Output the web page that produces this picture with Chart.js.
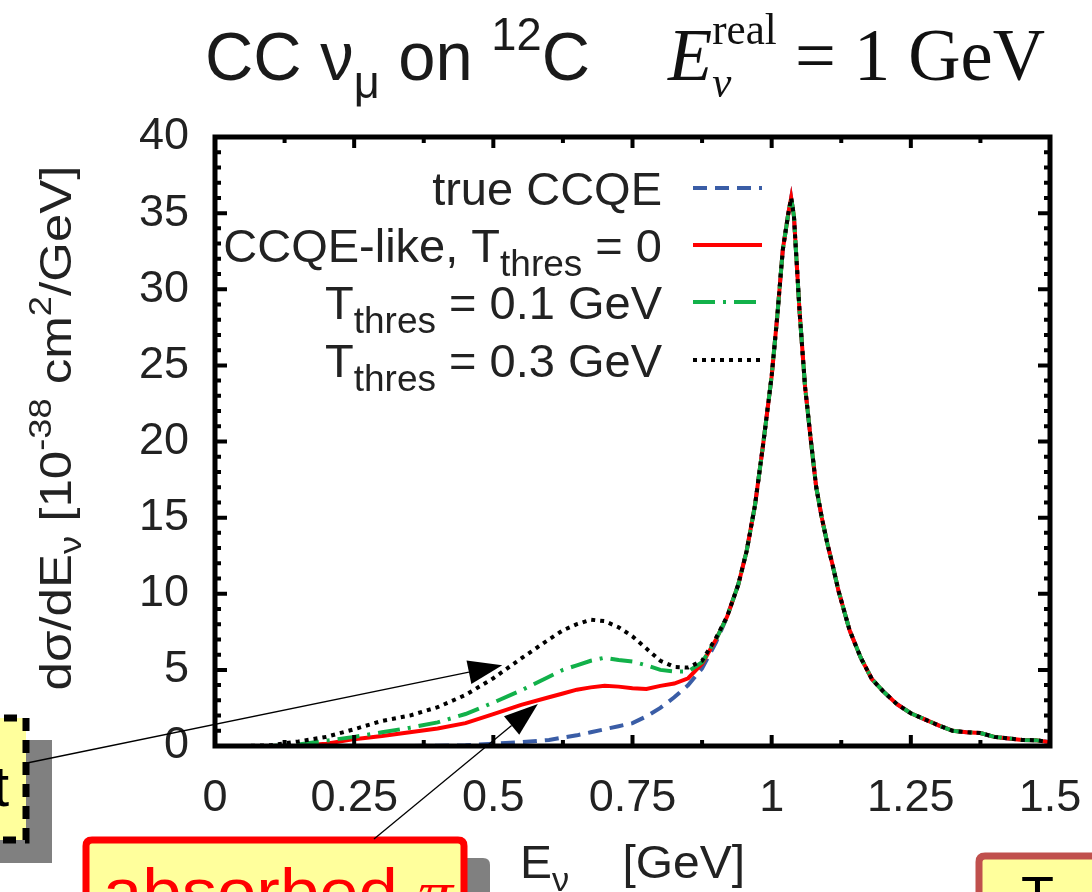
<!DOCTYPE html>
<html>
<head>
<meta charset="utf-8">
<script src="https://cdn.jsdelivr.net/npm/chart.js@4.4.1/dist/chart.umd.min.js"></script>
<style>
html,body{margin:0;padding:0;background:#fff;}
canvas{display:block;}
</style>
</head>
<body>
<canvas id="c" width="1092" height="892"></canvas>
<script>
// ---------------- data ----------------
const xLow = [0,0.05,0.1,0.15,0.2,0.25,0.3,0.35,0.4,0.45,0.5,0.55,0.6,0.625,0.65,0.675,0.7,0.725,0.75,0.775,0.8,0.825,0.85,0.875,0.9];
const trueCCQELow  = [0,0,0,0,0,0,0,0,0.02,0.05,0.15,0.25,0.4,0.55,0.7,0.9,1.1,1.3,1.5,1.95,2.5,3.2,4.0,5.1,6.8];
const ccqeLikeLow  = [0,0,0,0.02,0.15,0.45,0.65,0.9,1.15,1.5,2.1,2.7,3.2,3.45,3.7,3.85,3.95,3.9,3.8,3.75,3.95,4.1,4.45,5.4,7.0];
const thres01Low   = [0,0,0,0.1,0.35,0.6,0.9,1.2,1.55,2.1,2.85,3.65,4.55,5.0,5.3,5.6,5.8,5.65,5.55,5.3,5.0,4.9,4.9,5.5,7.0];
const thres03Low   = [0,0,0.05,0.3,0.6,1.1,1.65,2.0,2.55,3.35,4.45,5.75,7.0,7.6,8.0,8.3,8.2,7.8,7.2,6.4,5.6,5.2,5.15,5.6,7.1];
// above ~0.9 GeV all four curves coincide
const xHigh = [0.92,0.94,0.955,0.97,0.985,1.0,1.01,1.02,1.03,1.035,1.04,1.05,1.06,1.07,1.08,1.09,1.1,1.11,1.12,1.14,1.16,1.18,1.2,1.225,1.25,1.275,1.3,1.325,1.35,1.375,1.4,1.425,1.45,1.475,1.5];
const sharedHigh = [8.5,10.6,12.8,15.8,19.9,24.3,28.2,32.6,35.0,36.0,34.8,28.6,23.6,20.2,17.0,15.0,13.3,11.8,10.2,7.6,5.8,4.4,3.6,2.75,2.15,1.75,1.35,1.0,0.9,0.85,0.6,0.5,0.4,0.38,0.25];

const seriesNames = ['true CCQE','CCQE-like, T_thres = 0','T_thres = 0.1 GeV','T_thres = 0.3 GeV'];
const xTickLabels = ['0','0.25','0.5','0.75','1','1.25','1.5'];
const yTickLabels = ['0','5','10','15','20','25','30','35','40'];
const xTickStep = 0.25, yTickStep = 5;
const xRange = [0, 1.5], yRange = [0, 40];
// annotation arrow targets (data coordinates)
const arrowTipDirect = [0.516, 5.3];
const arrowTipAbsorbed = [0.58, 2.76];

function pts(lowY){
  const xs = xLow.concat(xHigh), ys = lowY.concat(sharedHigh);
  return xs.map((x,i)=>({x:x, y:ys[i]}));
}

const SANS = '"Liberation Sans", Arial, Helvetica, sans-serif';
const SERIF = '"Liberation Serif", "Times New Roman", Times, serif';

// ---------------- rich text helper ----------------
function measureRich(ctx, parts){
  let w = 0, pend = null;
  for (const p of parts){
    ctx.font = p.font;
    const pw = ctx.measureText(p.t).width;
    if (p.stack){ pend = pw; continue; }
    if (pend !== null){ w += Math.max(pend, pw); pend = null; }
    else w += pw;
  }
  return w;
}
function drawRich(ctx, parts, x, y, opt){
  opt = opt || {};
  const W = measureRich(ctx, parts);
  const sx = opt.fit ? opt.fit / W : 1;
  let x0 = x;
  if (opt.align === 'right') x0 = x - W*sx;
  else if (opt.align === 'center') x0 = x - W*sx/2;
  ctx.save();
  ctx.translate(x0, y);
  ctx.scale(sx, 1);
  ctx.textAlign = 'left';
  ctx.textBaseline = 'alphabetic';
  let cx = 0, pend = null;
  for (const p of parts){
    ctx.font = p.font;
    ctx.fillStyle = p.color || opt.color || '#222';
    ctx.fillText(p.t, cx, p.dy || 0);
    const pw = ctx.measureText(p.t).width;
    if (p.stack){ pend = pw; continue; }
    if (pend !== null){ cx += Math.max(pend, pw); pend = null; }
    else cx += pw;
  }
  ctx.restore();
}
function rrect(ctx, x, y, w, h, r){
  ctx.beginPath();
  ctx.moveTo(x+r, y);
  ctx.lineTo(x+w-r, y); ctx.quadraticCurveTo(x+w, y, x+w, y+r);
  ctx.lineTo(x+w, y+h-r); ctx.quadraticCurveTo(x+w, y+h, x+w-r, y+h);
  ctx.lineTo(x+r, y+h); ctx.quadraticCurveTo(x, y+h, x, y+h-r);
  ctx.lineTo(x, y+r); ctx.quadraticCurveTo(x, y, x+r, y);
  ctx.closePath();
}
function arrow(ctx, x0, y0, x1, y1){
  const a = Math.atan2(y1-y0, x1-x0), L = 34, hw = 12;
  const bx = x1 - L*Math.cos(a), by = y1 - L*Math.sin(a);
  ctx.save();
  ctx.strokeStyle = '#000'; ctx.lineWidth = 1.3; ctx.setLineDash([]);
  ctx.beginPath(); ctx.moveTo(x0, y0); ctx.lineTo(bx, by); ctx.stroke();
  ctx.fillStyle = '#000';
  ctx.beginPath();
  ctx.moveTo(x1, y1);
  ctx.lineTo(bx + hw*Math.sin(a), by - hw*Math.cos(a));
  ctx.lineTo(bx - hw*Math.sin(a), by + hw*Math.cos(a));
  ctx.closePath(); ctx.fill();
  ctx.restore();
}

// ---------------- decorations plugin ----------------
const deco = {
  id: 'deco',
  afterDatasetsDraw(chart){
    const ctx = chart.ctx, a = chart.chartArea;
    const xs = chart.scales.x, ys = chart.scales.y;
    ctx.save();
    ctx.strokeStyle = '#000'; ctx.setLineDash([]);
    ctx.lineWidth = 4;
    ctx.beginPath();
    for (let v = xRange[0]; v <= xRange[1] + 1e-9; v += xTickStep/2){
      const px = xs.getPixelForValue(v);
      const major = Math.abs(v/xTickStep - Math.round(v/xTickStep)) < 1e-6;
      const L = major ? 11 : 6;
      ctx.moveTo(px, a.bottom); ctx.lineTo(px, a.bottom - L);
      ctx.moveTo(px, a.top); ctx.lineTo(px, a.top + L);
    }
    for (let v = yRange[0]; v <= yRange[1] + 1e-9; v += 1){
      const py = ys.getPixelForValue(v);
      const major = (v % yTickStep) === 0;
      const L = major ? 12 : 6;
      ctx.moveTo(a.left, py); ctx.lineTo(a.left + L, py);
      ctx.moveTo(a.right, py); ctx.lineTo(a.right - L, py);
    }
    ctx.stroke();
    ctx.lineWidth = 5;
    ctx.strokeRect(a.left, a.top, a.right - a.left, a.bottom - a.top);
    ctx.restore();
  },
  afterDraw(chart){
    const ctx = chart.ctx;
    const xs = chart.scales.x, ys = chart.scales.y;
    ctx.save();
    // ---- title ----
    drawRich(ctx, [
      {t:'CC ', font:'68px '+SANS},
      {t:'\u03BD', font:'68px '+SANS},
      {t:'\u03BC', font:'46px '+SANS, dy:18},
      {t:' on ', font:'68px '+SANS},
      {t:'12', font:'46px '+SANS, dy:-30},
      {t:'C', font:'68px '+SANS}
    ], 205, 80, {fit:385, color:'#1a1a1a'});
    drawRich(ctx, [
      {t:'E', font:'italic 74px '+SERIF},
      {t:'real', font:'44px '+SERIF, dy:-36, stack:true},
      {t:'\u03BD', font:'italic 44px '+SERIF, dy:17},
      {t:' = 1 GeV', font:'74px '+SERIF}
    ], 668, 80, {fit:377, color:'#111'});

    // ---- y axis title (rotated) ----
    ctx.save();
    ctx.translate(71, 428);
    ctx.rotate(-Math.PI/2);
    drawRich(ctx, [
      {t:'d\u03C3/dE', font:'45px '+SANS},
      {t:'\u03BD', font:'32px '+SANS, dy:10},
      {t:' [10', font:'45px '+SANS},
      {t:'-38', font:'32px '+SANS, dy:-20},
      {t:' cm', font:'45px '+SANS},
      {t:'2', font:'32px '+SANS, dy:-20},
      {t:'/GeV]', font:'45px '+SANS}
    ], 0, 0, {align:'center', fit:525, color:'#222'});
    ctx.restore();

    // ---- x axis title ----
    drawRich(ctx, [
      {t:'E', font:'46px '+SANS},
      {t:'\u03BD', font:'33px '+SANS, dy:13},
      {t:'    [GeV]', font:'46px '+SANS}
    ], 520, 878, {fit:225, color:'#222'});

    // ---- legend ----
    const ds = chart.data.datasets;
    const rowsY = [188, 245, 302, 360];
    const labelParts = [
      [{t:'true CCQE', font:'47px '+SANS}],
      [{t:'CCQE-like, T', font:'47px '+SANS},{t:'thres', font:'37px '+SANS, dy:14},{t:' = 0', font:'47px '+SANS}],
      [{t:'T', font:'47px '+SANS},{t:'thres', font:'37px '+SANS, dy:14},{t:' = 0.1 GeV', font:'47px '+SANS}],
      [{t:'T', font:'47px '+SANS},{t:'thres', font:'37px '+SANS, dy:14},{t:' = 0.3 GeV', font:'47px '+SANS}]
    ];
    for (let i = 0; i < 4; i++){
      drawRich(ctx, labelParts[i], 662, rowsY[i] + 17, {align:'right', color:'#222'});
      ctx.save();
      ctx.strokeStyle = ds[i].borderColor;
      ctx.lineWidth = ds[i].borderWidth;
      ctx.setLineDash(ds[i].borderDash || []);
      ctx.lineCap = 'butt';
      ctx.beginPath(); ctx.moveTo(693, rowsY[i]); ctx.lineTo(762, rowsY[i]); ctx.stroke();
      ctx.restore();
    }

    // ---- annotation boxes ----
    ctx.fillStyle = '#808080';
    ctx.fillRect(-30, 740, 82, 123);
    ctx.fillStyle = '#ffff9c';
    ctx.fillRect(-40, 718, 66, 122);
    ctx.strokeStyle = '#000'; ctx.lineWidth = 7; ctx.setLineDash([13, 9]);
    ctx.strokeRect(-40, 718, 66, 122);
    ctx.setLineDash([]);
    ctx.save();
    ctx.beginPath(); ctx.rect(0, 720, 22, 116); ctx.clip();
    ctx.fillStyle = '#000'; ctx.font = '58px '+SANS; ctx.textAlign = 'right';
    ctx.fillText('direct', 9, 806);
    ctx.restore();

    ctx.fillStyle = '#808080';
    rrect(ctx, 105, 858, 385, 80, 7); ctx.fill();
    ctx.fillStyle = '#ffff9c';
    rrect(ctx, 86, 840, 378, 90, 6); ctx.fill();
    ctx.strokeStyle = '#ff0000'; ctx.lineWidth = 7;
    rrect(ctx, 86, 840, 378, 90, 6); ctx.stroke();
    drawRich(ctx, [
      {t:'absorbed ', font:'64px '+SANS},
      {t:'\u03C0', font:'italic 64px '+SERIF}
    ], 103, 914, {fit:350, color:'#ff0000'});

    ctx.fillStyle = '#ffff9c';
    rrect(ctx, 979, 856, 200, 100, 6); ctx.fill();
    ctx.strokeStyle = '#c0504d'; ctx.lineWidth = 7;
    rrect(ctx, 979, 856, 200, 100, 6); ctx.stroke();
    ctx.fillStyle = '#000'; ctx.font = '54px '+SANS; ctx.textAlign = 'left';
    ctx.fillText('T', 1021, 914);

    // ---- arrows ----
    arrow(ctx, 27, 763, xs.getPixelForValue(arrowTipDirect[0]), ys.getPixelForValue(arrowTipDirect[1]));
    arrow(ctx, 374, 839, xs.getPixelForValue(arrowTipAbsorbed[0]), ys.getPixelForValue(arrowTipAbsorbed[1]));
    ctx.restore();
  }
};

const tickFont = {family: SANS, size: 45};
new Chart(document.getElementById('c'), {
  type: 'line',
  data: {
    datasets: [
      {label: seriesNames[0], data: pts(trueCCQELow), borderColor:'#3a5da6', borderWidth:4, borderDash:[14,8], pointRadius:0, tension:0, order:3},
      {label: seriesNames[1], data: pts(ccqeLikeLow), borderColor:'#ff0000', borderWidth:4, pointRadius:0, tension:0, order:2},
      {label: seriesNames[2], data: pts(thres01Low), borderColor:'#12b14a', borderWidth:4, borderDash:[22,8,3,8], pointRadius:0, tension:0, order:1},
      {label: seriesNames[3], data: pts(thres03Low), borderColor:'#000000', borderWidth:4, borderDash:[4,5], pointRadius:0, tension:0, order:0}
    ]
  },
  options: {
    responsive: false,
    animation: false,
    devicePixelRatio: 1,
    layout: {padding: {top:137, right:42, left:0, bottom:0}},
    plugins: {legend:{display:false}, title:{display:false}, tooltip:{enabled:false}},
    scales: {
      x: {
        type:'linear', min:xRange[0], max:xRange[1],
        grid:{display:false, drawTicks:false}, border:{display:false},
        ticks:{stepSize:xTickStep, font:tickFont, color:'#222', padding:26, maxRotation:0, autoSkip:false,
               callback:(v)=>xTickLabels[Math.round(v/xTickStep)]},
        afterFit(s){ s.height = 146; s.paddingLeft = 0; s.paddingRight = 0; }
      },
      y: {
        type:'linear', min:yRange[0], max:yRange[1],
        grid:{display:false, drawTicks:false}, border:{display:false},
        ticks:{stepSize:yTickStep, font:tickFont, color:'#222', padding:26,
               callback:(v)=>yTickLabels[Math.round(v/yTickStep)]},
        afterFit(s){ s.width = 215; s.paddingTop = 0; s.paddingBottom = 0; }
      }
    }
  },
  plugins: [deco]
});
</script>
</body>
</html>
